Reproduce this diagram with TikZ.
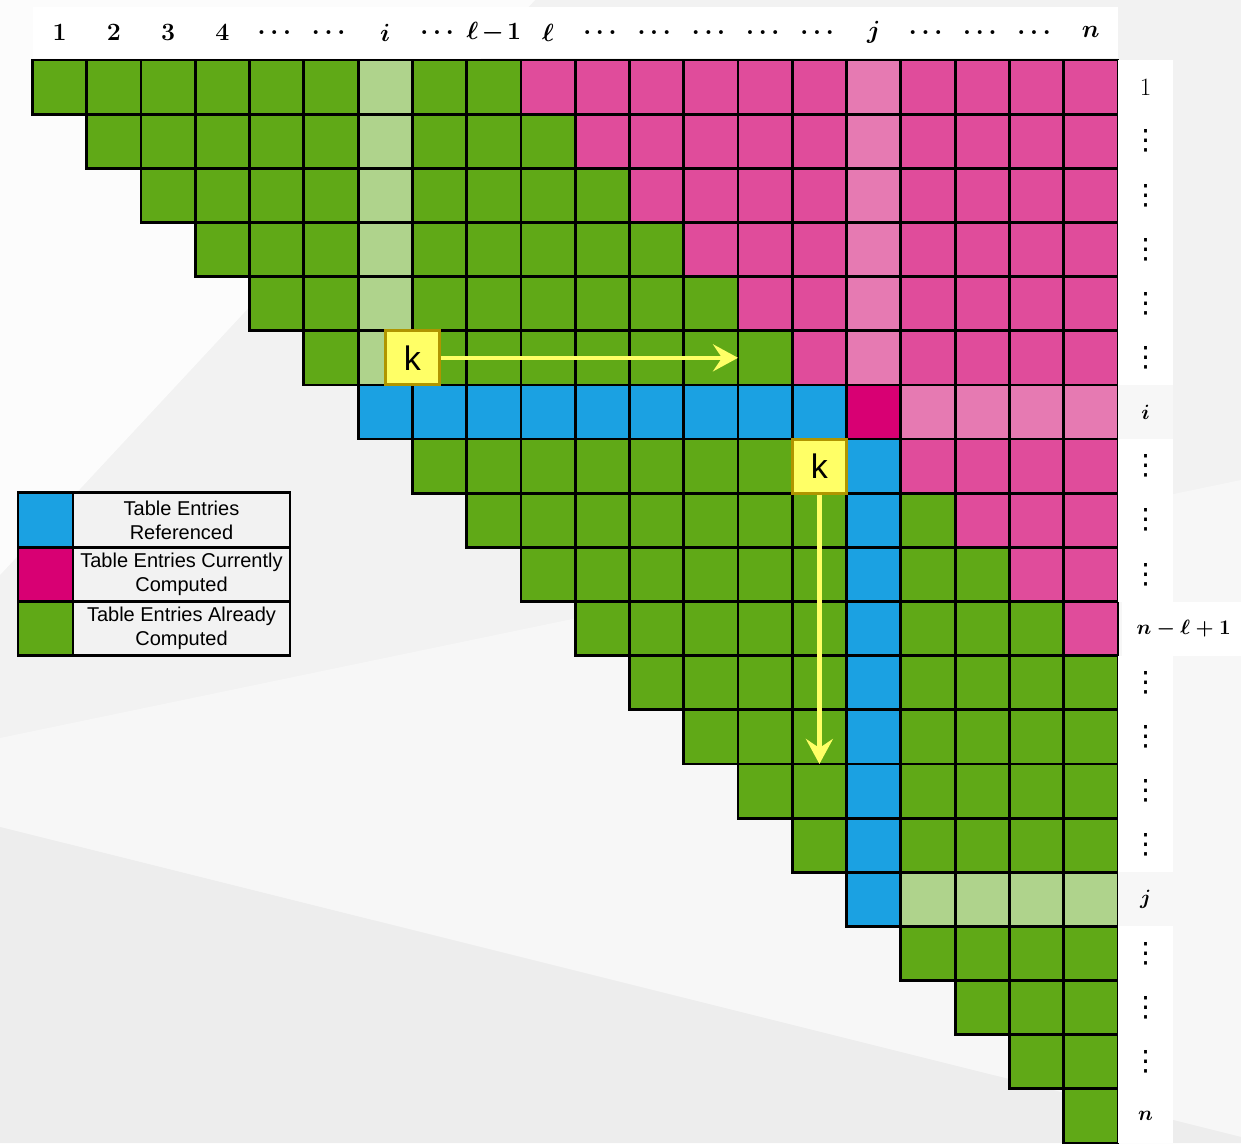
\documentclass[tikz,border=0pt]{standalone}
\usepackage{amsmath}
\usepackage{fontspec}
\newfontfamily\legendfont{Liberation Sans}
\newfontfamily\dotfont{DejaVu Sans}
\usetikzlibrary{arrows.meta,positioning}
\definecolor{leafgreen}{HTML}{60A917}
\definecolor{palegreen}{HTML}{AFD38C}
\definecolor{rosepink}{HTML}{E04C9B}
\definecolor{palepink}{HTML}{E67AB2}
\definecolor{hotmag}{HTML}{D80073}
\definecolor{skyblue}{HTML}{1BA1E2}
\definecolor{lemon}{HTML}{FFFF66}
\definecolor{mustard}{HTML}{B09500}
\definecolor{bgbase}{HTML}{F2F2F2}
\definecolor{bgwhite}{HTML}{FCFCFC}
\definecolor{bglight}{HTML}{F7F7F7}
\definecolor{bgdark}{HTML}{EDEDED}
\newcommand\rowdots{{\dotfont\fontsize{28}{28}\selectfont ⋮}}
\newcommand\lminus{\ell\mkern2mu{-}\mkern2mu1}
% fill of cell (row #1, column #2), i=7, j=16, l=10
\newcommand\pickfill[2]{%
  \def\cellfill{leafgreen}%
  \ifnum\numexpr#2-#1\relax>8 \def\cellfill{rosepink}\fi
  \ifnum#2=7 \ifnum#1<7 \def\cellfill{palegreen}\fi\fi
  \ifnum#1=16 \ifnum#2>16 \def\cellfill{palegreen}\fi\fi
  \ifnum#2=16 \ifnum#1<7 \def\cellfill{palepink}\else\def\cellfill{skyblue}\fi\fi
  \ifnum#1=7 \ifnum#2<16 \def\cellfill{skyblue}\else\ifnum#2=16 \def\cellfill{hotmag}\else\def\cellfill{palepink}\fi\fi\fi
}
\tikzset{
  cell/.style={rectangle,draw=black,line width=2.8pt,minimum width=54.27pt,minimum height=54.15pt,inner sep=0pt,outer sep=0pt},
  colhead/.style={rectangle,fill=white,minimum width=54.27pt,minimum height=51pt,inner sep=0pt,font=\boldmath\fontsize{23}{27}\selectfont},
  rowhead/.style={rectangle,fill=white,minimum width=55pt,minimum height=54.15pt,inner sep=0pt,font=\boldmath\fontsize{22}{26}\selectfont},
  kbox/.style={rectangle,draw=mustard,line width=2.8pt,fill=lemon,minimum size=54pt,inner sep=0pt,font=\legendfont\fontsize{34}{40}\selectfont},
  karrow/.style={-{Stealth[length=25pt,width=27pt,inset=9pt]},line width=4.5pt,lemon},
  legkey/.style={rectangle,draw=black,line width=2.8pt,minimum width=55pt,minimum height=54.3pt,inner sep=0pt,outer sep=0pt},
  legtext/.style={rectangle,draw=black,line width=2.8pt,fill=black!5,minimum width=217pt,minimum height=54.3pt,inner sep=1pt,outer sep=0pt,align=center,font=\legendfont\fontsize{20}{24}\selectfont}
}
\begin{document}
\begin{tikzpicture}[x=1pt,y=-1pt]
  \useasboundingbox (0,0) rectangle (1241,1143);
  \fill[bgbase] (0,0) rectangle (1241,1143);
  \fill[bgwhite] (0,0) -- (535,0) -- (0,575) -- cycle;
  \fill[bglight] (0,738) -- (1241,480) -- (1241,1137) -- (0,827) -- cycle;
  \fill[bgdark] (0,827) -- (1241,1137) -- (1241,1143) -- (0,1143) -- cycle;

  \begin{scope}[shift={(32.5pt,-60pt)},x=54.27pt,y=-54.15pt]
    \foreach \r in {1,...,20}{
      \foreach \c in {\r,...,20}{
        \pickfill{\r}{\c}
        \node[cell,fill=\cellfill] (c\r-\c) at (\c-0.5,\r-0.5) {};
      }
    }
    \foreach \c/\lab in {1/1,2/2,3/3,4/4,5/\dots,6/\dots,7/i,8/\dots,9/\lminus,10/\ell,11/\dots,12/\dots,13/\dots,14/\dots,15/\dots,16/j,17/\dots,18/\dots,19/\dots,20/n}
      \node[colhead] (h\c) at (\c-0.5,-0.51) {$\lab$};
    \foreach \r in {2,3,4,5,6,8,9,10,12,13,14,15,17,18,19}
      \node[rowhead] (r\r) at (20.51,\r-0.5) {\rowdots};
    \node[rowhead,font=\fontsize{25}{30}\selectfont] (r1) at (20.51,0.5) {1};
    \node[rowhead,fill=black!3] (r7) at (20.51,6.5) {$i$};
    \node[rowhead,fill=black!3] (r16) at (20.51,15.5) {$j$};
    \node[rowhead] (r20) at (20.51,19.5) {$n$};
    \node[rowhead,minimum width=123pt,anchor=west,xshift=4pt] (r11) at (20,10.5) {$n-\ell+1$};

    \node[kbox] (krow) at (7,5.5) {k};
    \coordinate (krowend) at (13,5.5);
    \node[kbox] (kcol) at (14.5,7.5) {k};
    \coordinate (kcolend) at (14.5,13);
    \draw[karrow] (krow) -- (krowend);
    \draw[karrow] (kcol) -- (kcolend);
  \end{scope}

  \node[legkey,fill=skyblue] (keyref) at (45.5,520) {};
  \node[legtext,right=0pt of keyref] (txtref) {Table Entries\\Referenced};
  \node[legkey,fill=hotmag,below=0pt of keyref] (keycur) {};
  \node[legtext,right=0pt of keycur] (txtcur) {Table Entries Currently\\Computed};
  \node[legkey,fill=leafgreen,below=0pt of keycur] (keydone) {};
  \node[legtext,right=0pt of keydone] (txtdone) {Table Entries Already\\Computed};
\end{tikzpicture}
\end{document}
